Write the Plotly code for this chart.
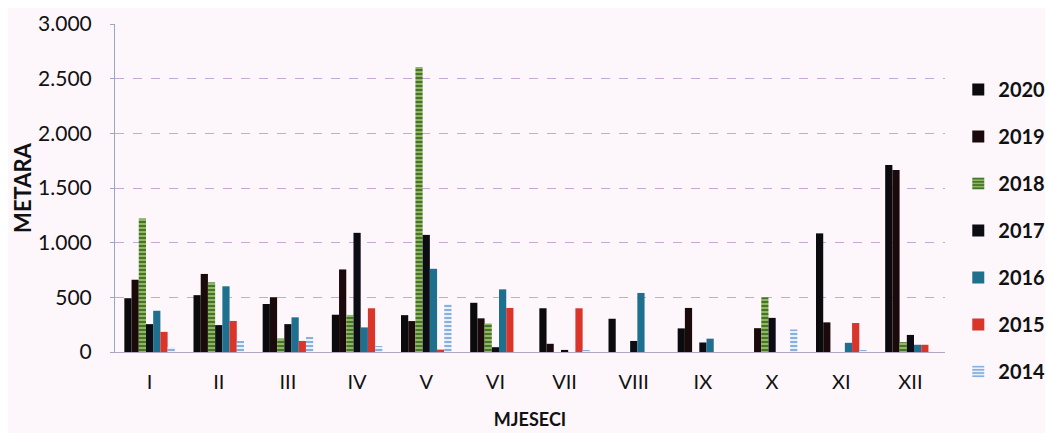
import plotly.graph_objects as go

months = ["I", "II", "III", "IV", "V", "VI", "VII", "VIII", "IX", "X", "XI", "XII"]
years = ["2020", "2019", "2018", "2017", "2016", "2015", "2014"]

v2020 = [492, 520, 439, 341, 337, 450, 400, 304, 216, 0, 1085, 1710]
v2019 = [661, 714, 501, 755, 283, 308, 75, 0, 403, 218, 271, 1665]
v2018 = [1220, 637, 123, 339, 2607, 261, 0, 0, 0, 500, 0, 90]
v2017 = [255, 246, 255, 1090, 1071, 44, 19, 101, 87, 312, 0, 156]
v2016 = [377, 601, 317, 225, 761, 573, 0, 540, 122, 0, 84, 66]
v2015 = [184, 284, 101, 400, 22, 403, 400, 0, 0, 0, 265, 66]
v2014 = [46, 101, 138, 55, 438, 0, 10, 0, 0, 206, 10, 0]

series = [v2020, v2019, v2018, v2017, v2016, v2015, v2014]
colors = ["#0b0b0d", "#1a0a0c", "#6f9a45", "#0c0d14", "#1f6f8f", "#d9352b", "#a8c8ea"]
patterns = [None, None, ("-", "#3f6a2a", "#8fb85a"), None, None, None, ("-", "#7fa8d8", "#e6f0fb")]

fig = go.Figure()
for name, vals, col, pat in zip(years, series, colors, patterns):
    marker = dict(color=col, line=dict(width=0))
    if pat is not None:
        marker["pattern"] = dict(shape=pat[0], fgcolor=pat[1], bgcolor=pat[2], size=4, solidity=0.45, fillmode="replace")
    fig.add_trace(go.Bar(x=months, y=vals, name=name, marker=marker, legendgroup=name))

bg = "#fdf7fc"
fig.update_layout(
    width=1053, height=433,
    margin=dict(l=107, r=116, t=16, b=89, autoexpand=False),
    paper_bgcolor=bg, plot_bgcolor=bg,
    barmode="group", bargap=0.27, bargroupgap=0,
    font=dict(family="Lato, Liberation Sans, sans-serif", color="#111111"),
    legend=dict(
        x=1.016, xanchor="left", y=0.86, yanchor="top",
        font=dict(size=20, weight="bold"),
        tracegroupgap=18, traceorder="grouped",
        bgcolor="rgba(0,0,0,0)",
    ),
    showlegend=True,
)
fig.update_yaxes(
    range=[0, 3000], tickvals=[0, 500, 1000, 1500, 2000, 2500, 3000],
    ticktext=["0", "500", "1.000", "1.500", "2.000", "2.500", "3.000"],
    tickfont=dict(size=21), showgrid=True, gridcolor="#c6a9d2", griddash="dash", gridwidth=1,
    showline=True, linecolor="#9aa6c8", linewidth=1,
    ticks="outside", ticklen=4, tickcolor="#9aa6c8", ticklabelstandoff=14,
    zeroline=False, automargin=False,
    title=dict(text="METARA", font=dict(size=22, weight="bold"), standoff=0),
)
fig.update_xaxes(
    tickfont=dict(size=20), showline=True, linecolor="#b0a8c0", linewidth=1,
    ticks="", ticklabelstandoff=12, automargin=False,
    title=dict(text="MJESECI", font=dict(size=18, weight="bold"), standoff=21),
)
fig.write_html("out.html")
